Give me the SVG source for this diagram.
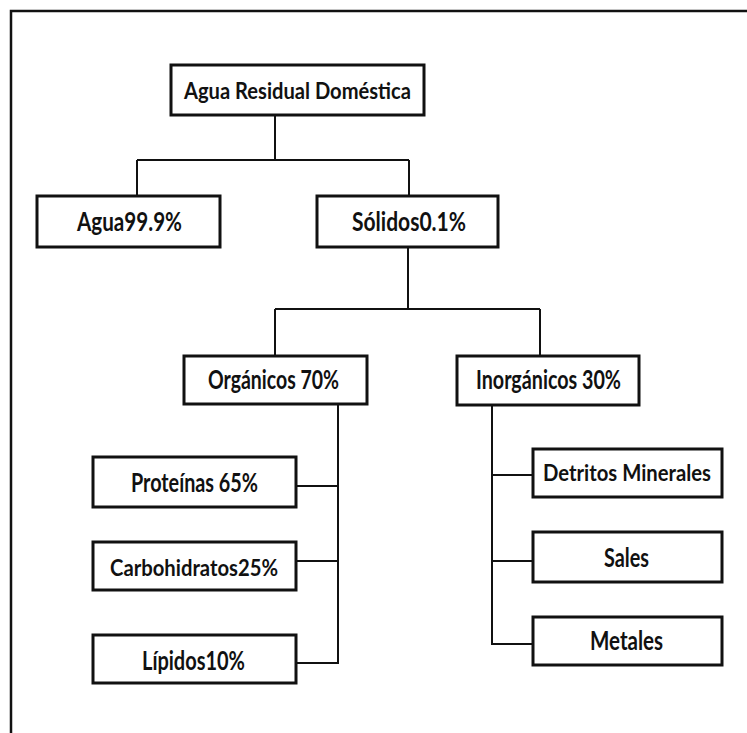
<svg xmlns="http://www.w3.org/2000/svg" width="747" height="733" viewBox="0 0 747 733">
<style>
.box{fill:#fff;stroke:#111;stroke-width:3}
.lbl{font-family:Lato,"Open Sans","Liberation Sans",sans-serif;font-weight:bold;font-size:26px;fill:#111;text-anchor:middle}
.sm{font-size:23px}
.con{fill:none;stroke:#111;stroke-width:2}
.frame{fill:none;stroke:#111;stroke-width:2.5}
</style>
<rect width="747" height="733" fill="#fff"/>
<path class="frame" d="M11,733 V11 H747"/>
<g id="connectors">
<path class="con" d="M275,115 V160 M137,160 H409 M137,160 V196 M409,160 V196"/>
<path class="con" d="M408,247 V309 M275,309 H540 M275,309 V356 M540,309 V356"/>
<path class="con" d="M338,404 V663 H296 M338,486 H296 M338,561 H296"/>
<path class="con" d="M492,405 V644 H533 M492,475 H533 M492,561 H533"/>
</g>
<g id="n-agua-residual">
<rect class="box" x="171" y="65" width="253" height="50"/>
<text class="lbl sm" x="297.5" y="99" textLength="227" lengthAdjust="spacingAndGlyphs">Agua Residual Doméstica</text>
</g>
<g id="n-agua">
<rect class="box" x="37" y="196" width="183" height="51"/>
<text class="lbl" x="129.5" y="231" textLength="105" lengthAdjust="spacingAndGlyphs">Agua99.9%</text>
</g>
<g id="n-solidos">
<rect class="box" x="317" y="196" width="181" height="51"/>
<text class="lbl" x="409" y="231" textLength="114" lengthAdjust="spacingAndGlyphs">Sólidos0.1%</text>
</g>
<g id="n-organicos">
<rect class="box" x="184" y="356" width="183" height="48"/>
<text class="lbl" x="273.5" y="389" textLength="131" lengthAdjust="spacingAndGlyphs">Orgánicos 70%</text>
</g>
<g id="n-inorganicos">
<rect class="box" x="457" y="356" width="182" height="49"/>
<text class="lbl" x="548.5" y="389" textLength="145" lengthAdjust="spacingAndGlyphs">Inorgánicos 30%</text>
</g>
<g id="n-proteinas">
<rect class="box" x="93" y="457" width="203" height="50"/>
<text class="lbl" x="194.5" y="492" textLength="127" lengthAdjust="spacingAndGlyphs">Proteínas 65%</text>
</g>
<g id="n-carbohidratos">
<rect class="box" x="93" y="542" width="203" height="48"/>
<text class="lbl sm" x="194" y="576" textLength="168" lengthAdjust="spacingAndGlyphs">Carbohidratos25%</text>
</g>
<g id="n-lipidos">
<rect class="box" x="93" y="635" width="203" height="48"/>
<text class="lbl" x="193.5" y="670" textLength="103" lengthAdjust="spacingAndGlyphs">Lípidos10%</text>
</g>
<g id="n-detritos">
<rect class="box" x="533" y="449" width="189" height="48"/>
<text class="lbl sm" x="627" y="481" textLength="168" lengthAdjust="spacingAndGlyphs">Detritos Minerales</text>
</g>
<g id="n-sales">
<rect class="box" x="533" y="532" width="189" height="50"/>
<text class="lbl" x="626.5" y="567" textLength="45" lengthAdjust="spacingAndGlyphs">Sales</text>
</g>
<g id="n-metales">
<rect class="box" x="533" y="617" width="189" height="48"/>
<text class="lbl" x="626.5" y="650" textLength="73" lengthAdjust="spacingAndGlyphs">Metales</text>
</g>
</svg>
